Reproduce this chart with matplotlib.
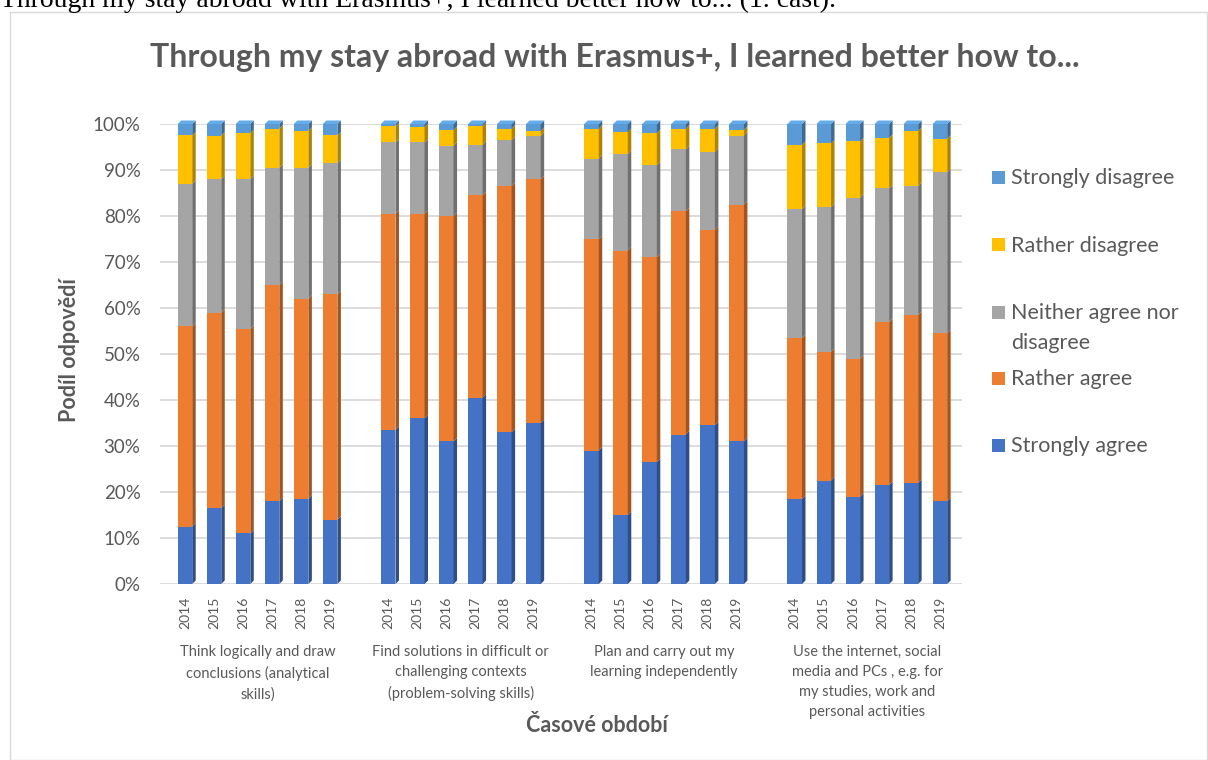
import matplotlib
matplotlib.use('Agg')
import matplotlib.pyplot as plt
import matplotlib.transforms as mtransforms
from matplotlib.patches import Polygon, Rectangle
from matplotlib.ticker import PercentFormatter
from matplotlib.colors import to_rgb

plt.rcParams['font.family'] = ['Lato', 'DejaVu Sans']

# ====data (shares in %)
years = ['2014', '2015', '2016', '2017', '2018', '2019']
groups = ['Think logically and draw\nconclusions (analytical\nskills)',
          'Find solutions in difficult or\nchallenging contexts\n(problem-solving skills)',
          'Plan and carry out my\nlearning independently',
          'Use the internet, social\nmedia and PCs , e.g. for\nmy studies, work and\npersonal activities']
series_names = ['Strongly agree', 'Rather agree', 'Neither agree nor disagree',
                'Rather disagree', 'Strongly disagree']
legend_labels = ['Strongly agree', 'Rather agree', 'Neither agree nor\ndisagree',
                 'Rather disagree', 'Strongly disagree']
colors = ['#4472C4', '#ED7D31', '#A5A5A5', '#FFC000', '#5B9BD5']

strongly_agree = [12.5, 16.5, 11.0, 18.0, 18.5, 14.0,
                  33.5, 36.0, 31.0, 40.5, 33.0, 35.0,
                  29.0, 15.0, 26.5, 32.5, 34.5, 31.0,
                  18.5, 22.5, 19.0, 21.5, 22.0, 18.0]
rather_agree = [43.5, 42.5, 44.5, 47.0, 43.5, 49.0,
                47.0, 44.5, 49.0, 44.0, 53.5, 53.0,
                46.0, 57.5, 44.5, 48.5, 42.5, 51.5,
                35.0, 28.0, 30.0, 35.5, 36.5, 36.5]
neither = [31.0, 29.0, 32.5, 25.5, 28.5, 28.5,
           15.5, 15.5, 15.3, 11.0, 10.0, 9.5,
           17.5, 21.0, 20.0, 13.5, 17.0, 15.0,
           28.0, 31.5, 35.0, 29.0, 28.0, 35.0]
rather_disagree = [10.5, 9.5, 10.0, 8.5, 8.0, 6.0,
                   3.5, 3.3, 3.4, 4.0, 2.5, 1.0,
                   6.5, 4.8, 7.0, 4.5, 5.0, 1.2,
                   14.0, 13.8, 12.2, 11.0, 12.0, 7.3]
strongly_disagree = [2.5, 2.5, 2.0, 1.0, 1.5, 2.5,
                     0.5, 0.7, 1.3, 0.5, 1.0, 1.5,
                     1.0, 1.7, 2.0, 1.0, 1.0, 1.3,
                     4.5, 4.2, 3.8, 3.0, 1.5, 3.2]
values = [strongly_agree, rather_agree, neither, rather_disagree, strongly_disagree]

# ====positions: 6 years per group, one empty slot between groups
x = [g * 7 + j for g in range(len(groups)) for j in range(len(years))]
width = 0.5
dx, dy = 0.12, 0.0076  # 3D depth offsets

fig = plt.figure(figsize=(12.08, 7.6), dpi=100)
ax = fig.add_axes([160 / 1208, 1 - 584 / 760, 802 / 1208, 460 / 760])

gray_txt = '#595959'

bottom = [0.0] * len(x)
for k, (vals, col) in enumerate(zip(values, colors)):
    h = [v / 100 for v in vals]
    ax.bar(x, h, width=width, bottom=bottom, color=col, zorder=3, label=series_names[k])
    dark = tuple(c * 0.68 for c in to_rgb(col))
    for xi, b, hi in zip(x, bottom, h):
        xr = xi + width / 2
        ax.add_patch(Polygon([(xr, b), (xr + dx, b + dy), (xr + dx, b + hi + dy), (xr, b + hi)],
                             closed=True, facecolor=dark, edgecolor='none', zorder=3, clip_on=False))
        if k == len(values) - 1:
            t = b + hi
            ax.add_patch(Polygon([(xi - width / 2, t), (xi - width / 2 + dx, t + dy),
                                  (xr + dx, t + dy), (xr, t)],
                                 closed=True, facecolor=tuple(min(1, c * 1.1) for c in to_rgb(col)),
                                 edgecolor='none', zorder=3, clip_on=False))
    bottom = [b + hi for b, hi in zip(bottom, h)]

ax.set_xlim(-0.86, 26.76)
ax.set_ylim(0, 1)
ax.set_yticks([i / 10 for i in range(11)])
ax.yaxis.set_major_formatter(PercentFormatter(1.0, decimals=0))
ax.yaxis.grid(True, color='#D9D9D9', linewidth=1.3, zorder=0)
for s in ax.spines.values():
    s.set_visible(False)
ax.tick_params(axis='y', length=0, pad=14, labelsize=13.5, labelcolor=gray_txt)
ax.set_xticks(x)
ax.set_xticklabels(years * len(groups), rotation=90)
ax.tick_params(axis='x', length=0, pad=9, labelsize=10, labelcolor=gray_txt)

# group labels under the years
trans = mtransforms.blended_transform_factory(ax.transData, fig.transFigure)
for g, name in enumerate(groups):
    ax.text(g * 7 + 2.5, 1 - 645 / 760, name, transform=trans, ha='center', va='top',
            fontsize=10.5, color=gray_txt, linespacing=1.55)

fig.text(70 / 1208, 1 - 350 / 760, 'Podíl odpovědí', rotation=90, ha='center', va='center',
         fontsize=15.5, fontweight='bold', color=gray_txt)
fig.text(597 / 1208, 1 - 726 / 760, 'Časové období', ha='center', va='center',
         fontsize=15.5, fontweight='bold', color=gray_txt)

fig.text(615 / 1208, 1 - 58 / 760, 'Through my stay abroad with Erasmus+, I learned better how to...',
         ha='center', va='center', fontsize=23, fontweight='bold', color=gray_txt)

# legend, top entry = last series
leg_y = [445, 378, 312, 245, 177]
for col, lab, y in zip(colors, legend_labels, leg_y):
    fig.patches.append(Rectangle((992 / 1208, 1 - (y + 6.5) / 760), 13 / 1208, 13 / 760,
                                 transform=fig.transFigure, facecolor=col, edgecolor='none'))
    fig.text(1011 / 1208, 1 - (y - 9) / 760, lab, ha='left', va='top', fontsize=15.5,
             color=gray_txt, linespacing=1.62)

# chart border and caption line cut at the top of the page
fig.patches.append(Rectangle((10 / 1208, 0.5 / 760), 1197 / 1208, (760 - 12.5) / 760,
                             transform=fig.transFigure, facecolor='none', edgecolor='#D9D9D9', lw=1))
fig.text(0, 1 - 7 / 760, 'Through my stay abroad with Erasmus+, I learned better how to... (1. část).',
         ha='left', va='baseline', fontsize=20, family=['Liberation Serif', 'DejaVu Serif'], color='black')

fig.savefig('out.png', dpi=100)
